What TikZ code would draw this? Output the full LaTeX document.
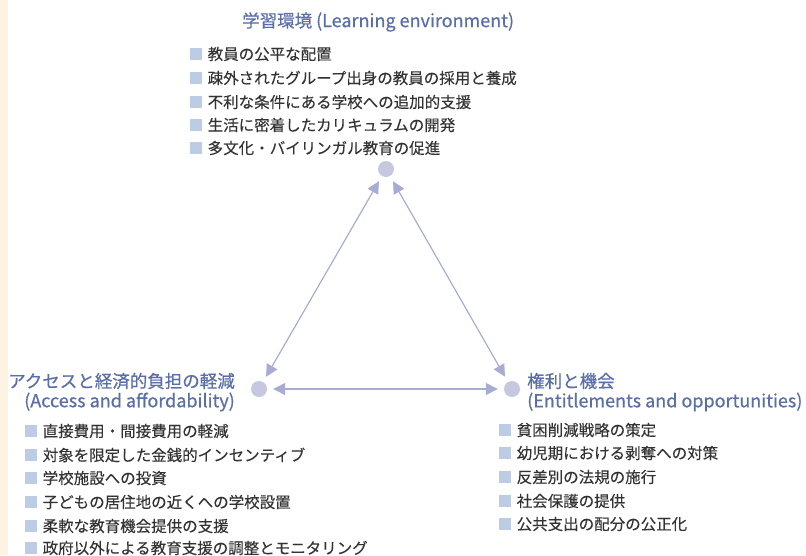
\documentclass[tikz,border=0pt]{standalone}
\usepackage{fontspec}
\setmainfont{Noto Sans CJK JP}[FakeBold=0.15]
\newfontfamily\ttlfont{Noto Sans CJK JP}[FakeBold=0.6]
\usetikzlibrary{arrows.meta}
\definecolor{ttl}{HTML}{5A6EA8}
\definecolor{bul}{HTML}{BCCCE5}
\definecolor{dotc}{HTML}{C6C8E0}
\definecolor{arr}{HTML}{A8ACD2}
\definecolor{txt}{HTML}{333333}
\definecolor{cream}{HTML}{FDF3E2}
\newcommand\bsq{\textcolor{bul}{\rule[0.3pt]{11.5pt}{11.5pt}}\hspace{6pt}}
\newcommand\latn[1]{{\fontsize{18}{21}\selectfont #1}}
\begin{document}
\begin{tikzpicture}[x=1pt,y=-1pt,
  ttlstyle/.style={inner sep=0pt, text=ttl, font=\ttlfont\fontsize{17.5}{21}\selectfont},
  itemstyle/.style={anchor=west, inner sep=0pt, text=txt, font=\fontsize{15.5}{18}\selectfont},
  hub/.style={circle, fill=dotc, minimum size=16pt, inner sep=0pt},
  conn/.style={draw=arr, line width=1.2pt, {Triangle[length=12pt,width=12pt,fill=arr]}-{Triangle[length=12pt,width=12pt,fill=arr]}, shorten <=6pt, shorten >=6pt}]
\useasboundingbox (0,0) rectangle (806,555);
\fill[cream] (0,0) rectangle (8,555);

% hubs
\node[hub] (top) at (386,169) {};
\node[hub] (left) at (259,389) {};
\node[hub] (right) at (512,389) {};

\draw[conn] (top) -- (left);
\draw[conn] (top) -- (right);
\draw[conn] (left) -- (right);

% top group
\node[ttlstyle, anchor=west] (tt) at (242,22) {学習環境 \latn{(Learning environment)}};
\node[itemstyle] (t1) at (190,54) {\bsq 教員の公平な配置};
\node[itemstyle] (t2) at (190,78) {\bsq 疎外されたグループ出身の教員の採用と養成};
\node[itemstyle] (t3) at (190,102) {\bsq 不利な条件にある学校への追加的支援};
\node[itemstyle] (t4) at (190,125) {\bsq 生活に密着したカリキュラムの開発};
\node[itemstyle] (t5) at (190,148) {\bsq 多文化・バイリンガル教育の促進};

% left group
\node[ttlstyle, anchor=east] (lt1) at (235,381) {アクセスと経済的負担の軽減};
\node[ttlstyle, anchor=east] (lt2) at (235,402) {\latn{(Access and affordability)}};
\node[itemstyle] (l1) at (25,431) {\bsq 直接費用・間接費用の軽減};
\node[itemstyle] (l2) at (25,455) {\bsq 対象を限定した金銭的インセンティブ};
\node[itemstyle] (l3) at (25,478) {\bsq 学校施設への投資};
\node[itemstyle] (l4) at (25,502) {\bsq 子どもの居住地の近くへの学校設置};
\node[itemstyle] (l5) at (25,526) {\bsq 柔軟な教育機会提供の支援};
\node[itemstyle] (l6) at (25,548) {\bsq 政府以外による教育支援の調整とモニタリング};

% right group
\node[ttlstyle, anchor=west] (rt1) at (527,381) {権利と機会};
\node[ttlstyle, anchor=west] (rt2) at (527,402) {\latn{(Entitlements and opportunities)}};
\node[itemstyle] (r1) at (499,430) {\bsq 貧困削減戦略の策定};
\node[itemstyle] (r2) at (499,453) {\bsq 幼児期における剥奪への対策};
\node[itemstyle] (r3) at (499,477) {\bsq 反差別の法規の施行};
\node[itemstyle] (r4) at (499,501) {\bsq 社会保護の提供};
\node[itemstyle] (r5) at (499,524) {\bsq 公共支出の配分の公正化};
\end{tikzpicture}
\end{document}
